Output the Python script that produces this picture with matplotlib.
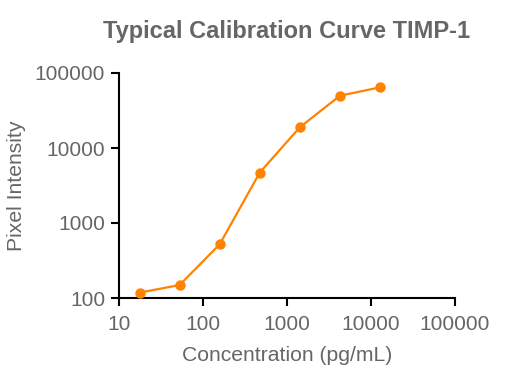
import matplotlib
matplotlib.use("Agg")
import matplotlib.pyplot as plt
from matplotlib.ticker import FixedLocator, FixedFormatter, NullLocator

plt.rcParams['font.family'] = ['Liberation Sans', 'DejaVu Sans']

concentration = [17.6, 52.7, 158, 474, 1422, 4267, 12800]
intensity = [118, 149, 520, 4700, 18900, 49800, 64400]

x_ticks = [10, 100, 1000, 10000, 100000]
x_tick_labels = ["10", "100", "1000", "10000", "100000"]
y_ticks = [100, 1000, 10000, 100000]
y_tick_labels = ["100", "1000", "10000", "100000"]

gray = "#666666"
orange = "#FF8200"

fig = plt.figure(figsize=(5.1, 3.82), dpi=100)
ax = fig.add_axes([119/510, 1-298/382, (455-119)/510, (298-73)/382])

ax.plot(concentration, intensity, color=orange, lw=1.6, marker='o', ms=6.5, clip_on=False, zorder=3)

ax.set_xscale('log')
ax.set_yscale('log')
ax.set_xlim(10, 100000)
ax.set_ylim(100, 100000)

ax.xaxis.set_major_locator(FixedLocator(x_ticks))
ax.xaxis.set_major_formatter(FixedFormatter(x_tick_labels))
ax.yaxis.set_major_locator(FixedLocator(y_ticks))
ax.yaxis.set_major_formatter(FixedFormatter(y_tick_labels))
ax.xaxis.set_minor_locator(NullLocator())
ax.yaxis.set_minor_locator(NullLocator())

for s in ['top', 'right']:
    ax.spines[s].set_visible(False)
for s in ['left', 'bottom']:
    ax.spines[s].set_linewidth(1.5)
    ax.spines[s].set_color('black')

ax.tick_params(axis='both', which='major', length=6, width=1.5, color='black',
               labelcolor=gray, labelsize=15, pad=4)
ax.tick_params(axis='x', pad=6)

ax.set_xlabel("Concentration (pg/mL)", color=gray, fontsize=15.2, labelpad=9)
ax.set_ylabel("Pixel Intensity", color=gray, fontsize=15.2, labelpad=6)
ax.set_title("Typical Calibration Curve TIMP-1", color=gray, fontsize=17,
             fontweight='bold', pad=25)

fig.savefig("out.png", dpi=100)
